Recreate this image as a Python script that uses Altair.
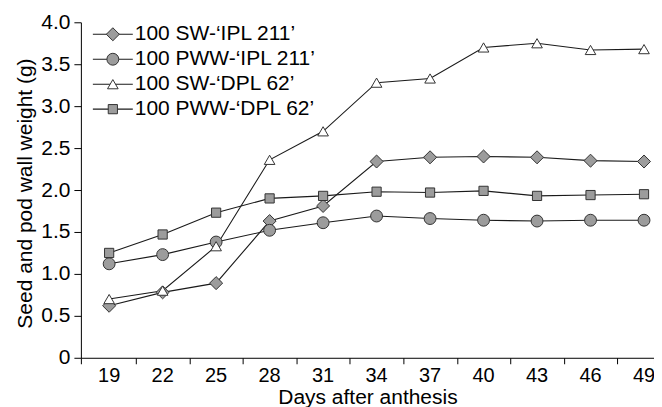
import altair as alt
import pandas as pd

# ---- data ----
days = [19, 22, 25, 28, 31, 34, 37, 40, 43, 46, 49]
series = ["100 SW-‘IPL 211’", "100 PWW-‘IPL 211’", "100 SW-‘DPL 62’", "100 PWW-‘DPL 62’"]
sw_ipl = [0.62, 0.78, 0.89, 1.63, 1.81, 2.34, 2.39, 2.40, 2.39, 2.35, 2.34]
pww_ipl = [1.12, 1.23, 1.38, 1.52, 1.61, 1.69, 1.66, 1.64, 1.63, 1.64, 1.64]
sw_dpl = [0.70, 0.80, 1.33, 2.36, 2.70, 3.28, 3.33, 3.70, 3.75, 3.67, 3.68]
pww_dpl = [1.25, 1.47, 1.73, 1.90, 1.93, 1.98, 1.97, 1.99, 1.93, 1.94, 1.95]
y_ticks = [0, 0.5, 1.0, 1.5, 2.0, 2.5, 3.0, 3.5, 4.0]

# ---- styles ----
shapes = ["diamond", "circle", "triangle-up", "square"]
fills = ["#9c9c9c", "#9c9c9c", "#ffffff", "#9c9c9c"]
sizes = [170, 85, 105, 90]
FONT = "Liberation Sans"
LINE = "#1a1a1a"

values = [sw_ipl, pww_ipl, sw_dpl, pww_dpl]
rows = []
for s, vals in zip(series, values):
    for d, v in zip(days, vals):
        rows.append({"day": d, "value": v, "series": s})
df = pd.DataFrame(rows)

# x ticks sit between the day categories (band boundaries) plus both axis ends
x_lo, x_hi = days[0] - 1.585, days[-1] + 0.56
boundaries = [d + 1.5 for d in days[:-1]]
x_tick_values = [x_lo] + boundaries + [x_hi]

x_enc = alt.X(
    "day:Q",
    scale=alt.Scale(domain=[x_lo, x_hi], nice=False, zero=False),
    axis=alt.Axis(
        values=x_tick_values,
        labels=False,
        tickSize=6,
        grid=False,
        title="Days after anthesis",
        titleY=29,
        titleBaseline="top",
        titleFontSize=21,
    ),
)
y_enc = alt.Y(
    "value:Q",
    scale=alt.Scale(domain=[0, 4], nice=False),
    axis=alt.Axis(
        values=y_ticks,
        labelExpr="datum.value == 0 ? '0' : format(datum.value, '.1f')",
        tickSize=7,
        labelPadding=4,
        grid=False,
        title="Seed and pod wall weight (g)",
        titleFontSize=21,
        titlePadding=5,
        titleY=171,
    ),
)

shape_scale = alt.Scale(domain=series, range=shapes)
fill_scale = alt.Scale(domain=series, range=fills)
size_scale = alt.Scale(domain=series, range=sizes)

lines = alt.Chart(df).mark_line(color=LINE, strokeWidth=1.1).encode(
    x=x_enc, y=y_enc, detail="series:N"
)
points = alt.Chart(df).mark_point(filled=True, stroke="#333333", strokeWidth=1, opacity=1).encode(
    x="day:Q",
    y="value:Q",
    shape=alt.Shape("series:N", scale=shape_scale, legend=None),
    fill=alt.Fill("series:N", scale=fill_scale, legend=None),
    size=alt.Size("series:N", scale=size_scale, legend=None),
)

# x tick labels centred on each day (ticks themselves are at the boundaries)
day_df = pd.DataFrame({"day": days})
x_labels = alt.Chart(day_df).mark_text(
    baseline="middle", align="center", fontSize=20, font=FONT, color="black"
).encode(x="day:Q", y=alt.value(354), text="day:N")

# ---- manual legend (line + marker + label) ----
leg_df = pd.DataFrame({"series": series, "idx": list(range(len(series)))})
leg_base = alt.Chart(leg_df).transform_calculate(ly="12 + 25 * datum.idx")
leg_y = alt.Y("ly:Q", scale=None, axis=None)
leg_lines = leg_base.mark_rule(color=LINE, strokeWidth=1.1).encode(
    x=alt.value(12), x2=alt.value(52), y=leg_y
)
leg_points = leg_base.mark_point(filled=True, stroke="#333333", strokeWidth=1, opacity=1).encode(
    x=alt.value(32),
    y=leg_y,
    shape=alt.Shape("series:N", scale=shape_scale, legend=None),
    fill=alt.Fill("series:N", scale=fill_scale, legend=None),
    size=alt.Size("series:N", scale=size_scale, legend=None),
)
leg_text = leg_base.mark_text(align="left", baseline="middle", fontSize=21, font=FONT, color="black").encode(
    x=alt.value(54), y=leg_y, text="series:N"
)

chart = (
    alt.layer(lines, points, x_labels, leg_lines, leg_points, leg_text)
    .properties(
        width=574,
        height=336,
        autosize=alt.AutoSizeParams(type="none"),
        padding={"left": 73, "top": 14, "right": 0, "bottom": 49},
        background="white",
    )
    .configure_view(stroke=None)
    .configure_axis(
        domainColor="black",
        domainWidth=1,
        tickColor="black",
        tickWidth=1,
        labelColor="black",
        titleColor="black",
        labelFont=FONT,
        titleFont=FONT,
        labelFontSize=21,
        titleFontSize=21,
        titleFontWeight="normal",
    )
)

chart.save("out.html", embed_options={"renderer": "svg", "actions": False})
